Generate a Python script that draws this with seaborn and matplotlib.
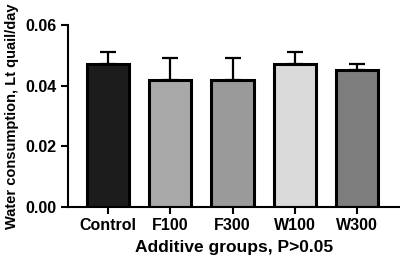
import numpy as np
import pandas as pd
import matplotlib
matplotlib.use('Agg')
import matplotlib.pyplot as plt
import seaborn as sns

groups = ['Control', 'F100', 'F300', 'W100', 'W300']
means = [0.047, 0.042, 0.042, 0.047, 0.045]
sd_upper = [0.004, 0.007, 0.007, 0.004, 0.002]
colors = ['#1c1c1c', '#a9a9a9', '#9a9a9a', '#dadada', '#7d7d7d']

sns.set_style('ticks')
plt.rcParams['font.family'] = ['Liberation Sans', 'DejaVu Sans']
plt.rcParams['font.weight'] = 'bold'
plt.rcParams['text.color'] = 'black'
plt.rcParams['axes.labelcolor'] = 'black'
plt.rcParams['xtick.color'] = 'black'
plt.rcParams['ytick.color'] = 'black'
plt.rcParams['axes.edgecolor'] = 'black'

df = pd.DataFrame({'group': groups, 'water': means})

fig = plt.figure(figsize=(4, 2.62), dpi=100)
ax = fig.add_axes([0.17, 0.21, 0.828, 0.695])

sns.barplot(data=df, x='group', y='water', hue='group', palette=colors,
            width=0.68, edgecolor='black', linewidth=2.2, legend=False, ax=ax)

# nur obere Fehlerbalken
ax.errorbar(np.arange(len(groups)), means, yerr=[np.zeros(len(groups)), sd_upper],
            fmt='none', ecolor='black', elinewidth=1.6, capsize=5.5, capthick=1.6, zorder=1)

ax.set_ylim(0, 0.06)
ax.set_xlim(-0.645, 4.68)
ax.set_yticks([0, 0.02, 0.04, 0.06])
ax.set_yticklabels(['0.00', '0.02', '0.04', '0.06'])
ax.tick_params(axis='both', width=1.5, length=5, labelsize=11.5, pad=3)
for lab in ax.get_xticklabels() + ax.get_yticklabels():
    lab.set_fontweight('bold')
for s in ['left', 'bottom']:
    ax.spines[s].set_linewidth(1.5)
sns.despine(ax=ax)

ax.set_xlabel('Additive groups, P>0.05', fontsize=12.5, fontweight='bold', labelpad=5)
ax.set_ylabel('Water consumption, Lt quail/day', fontsize=10.5, fontweight='bold', labelpad=5)

fig.savefig('out.png', dpi=100)
